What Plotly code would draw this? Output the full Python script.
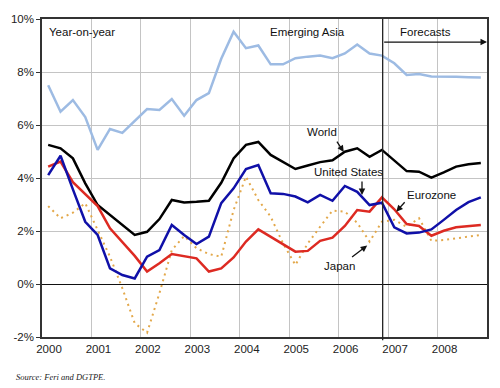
import plotly.graph_objects as go

# Quarterly, 2000 Q1 .. 2008 Q4 (year-on-year growth, %)
years = [2000, 2001, 2002, 2003, 2004, 2005, 2006, 2007, 2008]
year_labels = ["2000", "2001", "2002", "2003", "2004", "2005", "2006", "2007", "2008"]
quarters = [y + (q - 0.5) / 4 for y in years for q in range(1, 5)]

emerging_asia = [7.5, 6.5, 6.94, 6.3, 5.06, 5.85, 5.7, 6.15,
                 6.6, 6.57, 6.98, 6.35, 6.94, 7.2, 8.5, 9.52,
                 8.9, 9.0, 8.29, 8.29, 8.52, 8.58, 8.62, 8.52,
                 8.7, 9.04, 8.7, 8.62, 8.33, 7.89, 7.92, 7.83,
                 7.83, 7.82, 7.8, 7.79]
world = [5.25, 5.12, 4.74, 3.8, 2.98, 2.6, 2.23, 1.85,
         1.97, 2.45, 3.17, 3.08, 3.1, 3.14, 3.82, 4.74,
         5.25, 5.36, 4.87, 4.59, 4.34, 4.47, 4.6, 4.67,
         4.99, 5.12, 4.8, 5.06, 4.65, 4.26, 4.24, 4.01,
         4.21, 4.43, 4.52, 4.57]
united_states = [4.11, 4.84, 3.57, 2.35, 1.85, 0.59, 0.34, 0.21,
                 1.03, 1.28, 2.23, 1.85, 1.51, 1.79, 3.05, 3.61,
                 4.34, 4.49, 3.42, 3.4, 3.3, 3.08, 3.36, 3.14,
                 3.7, 3.48, 2.98, 3.07, 2.14, 1.91, 1.94, 2.06,
                 2.42, 2.79, 3.09, 3.27]
eurozone = [4.43, 4.62, 3.84, 3.4, 2.94, 2.1, 1.6, 1.06,
            0.47, 0.78, 1.13, 1.06, 0.97, 0.47, 0.59, 1.0,
            1.6, 2.06, 1.79, 1.51, 1.22, 1.25, 1.63, 1.75,
            2.19, 2.79, 2.73, 3.27, 2.82, 2.26, 2.19, 1.82,
            2.01, 2.14, 2.19, 2.23]
japan = [2.94, 2.48, 2.69, 3.05, 2.04, 1.03, -0.16, -1.48,
         -1.84, -0.35, 1.28, 1.81, 1.35, 1.13, 1.03, 2.79,
         4.05, 3.17, 2.54, 1.53, 0.72, 1.53, 2.16, 2.77,
         2.73, 2.31, 1.6, 2.35, 2.42, 2.16, 2.48, 1.63,
         1.66, 1.72, 1.79, 1.85]
forecast_start = 2006.89

fig = go.Figure()
fig.add_trace(go.Scatter(x=quarters, y=emerging_asia, mode="lines", name="Emerging Asia",
                         line=dict(color="#9dbbe3", width=2.5)))
fig.add_trace(go.Scatter(x=quarters, y=japan, mode="lines", name="Japan",
                         line=dict(color="#e3a84a", width=2, dash="2px,4px")))
fig.add_trace(go.Scatter(x=quarters, y=world, mode="lines", name="World",
                         line=dict(color="#000000", width=2.5)))
fig.add_trace(go.Scatter(x=quarters, y=eurozone, mode="lines", name="Eurozone",
                         line=dict(color="#dd2a22", width=2.5)))
fig.add_trace(go.Scatter(x=quarters, y=united_states, mode="lines", name="United States",
                         line=dict(color="#1010a8", width=2.5)))

fig.add_shape(type="line", xref="x", yref="paper", x0=forecast_start, x1=forecast_start,
              y0=-0.01, y1=1, line=dict(color="#222222", width=1.3))

font = "Liberation Sans, Arial, sans-serif"
texts = [
    ("Year-on-year", 2000.80, 9.51),
    ("Emerging Asia", 2005.37, 9.51),
    ("Forecasts", 2007.76, 9.51),
    ("World", 2005.67, 5.74),
    ("United States", 2006.19, 4.23),
    ("Eurozone", 2007.88, 3.36),
    ("Japan", 2006.02, 0.68),
]
for t, x, y in texts:
    fig.add_annotation(x=x, y=y, text=t, showarrow=False,
                       font=dict(family=font, size=11.5, color="#111111"))

arrows = [
    (2005.945, 5.43, 2006.103, 4.98),
    (2006.472, 3.92, 2006.472, 3.36),
    (2007.362, 3.14, 2007.165, 2.73),
    (2006.241, 0.98, 2006.577, 1.45),
    (forecast_start, 9.13, 2009.0, 9.13),
]
for ax, ay, x, y in arrows:
    fig.add_annotation(x=x, y=y, ax=ax, ay=ay, xref="x", yref="y", axref="x", ayref="y",
                       text="", showarrow=True, arrowhead=2, arrowsize=1,
                       arrowwidth=1.3, arrowcolor="#111111")

fig.add_annotation(xref="paper", yref="paper", x=-0.064, y=-0.126, xanchor="left",
                   yanchor="middle", showarrow=False, text="<i>Source: Feri and DGTPE.</i>",
                   font=dict(family="Liberation Serif, Times New Roman, serif", size=8.5,
                             color="#222222"))

fig.update_layout(
    width=500, height=388,
    margin=dict(l=34, r=11, t=19, b=51),
    plot_bgcolor="white", paper_bgcolor="white",
    showlegend=False,
    font=dict(family=font, size=11.5, color="#222222"),
)
fig.update_xaxes(range=[2000, 2009], tickvals=years, ticktext=year_labels,
                 showgrid=True, gridcolor="#c4c4c4", gridwidth=1,
                 showline=True, linecolor="#333333", linewidth=1.5, mirror=True,
                 ticks="", ticklabelshift=7, zeroline=False)
fig.update_yaxes(range=[-2, 10], tickvals=[-2, 0, 2, 4, 6, 8, 10],
                 ticktext=["-2%", "0%", "2%", "4%", "6%", "8%", "10%"],
                 showgrid=True, gridcolor="#c4c4c4", gridwidth=1,
                 showline=True, linecolor="#333333", linewidth=1.5, mirror=True,
                 ticks="outside", ticklen=4, tickcolor="#333333",
                 zeroline=True, zerolinecolor="#111111", zerolinewidth=1.3)

fig.write_html("out.html", config={"displayModeBar": False},
               post_script="document.body.style.margin='0';document.body.style.padding='0';")
